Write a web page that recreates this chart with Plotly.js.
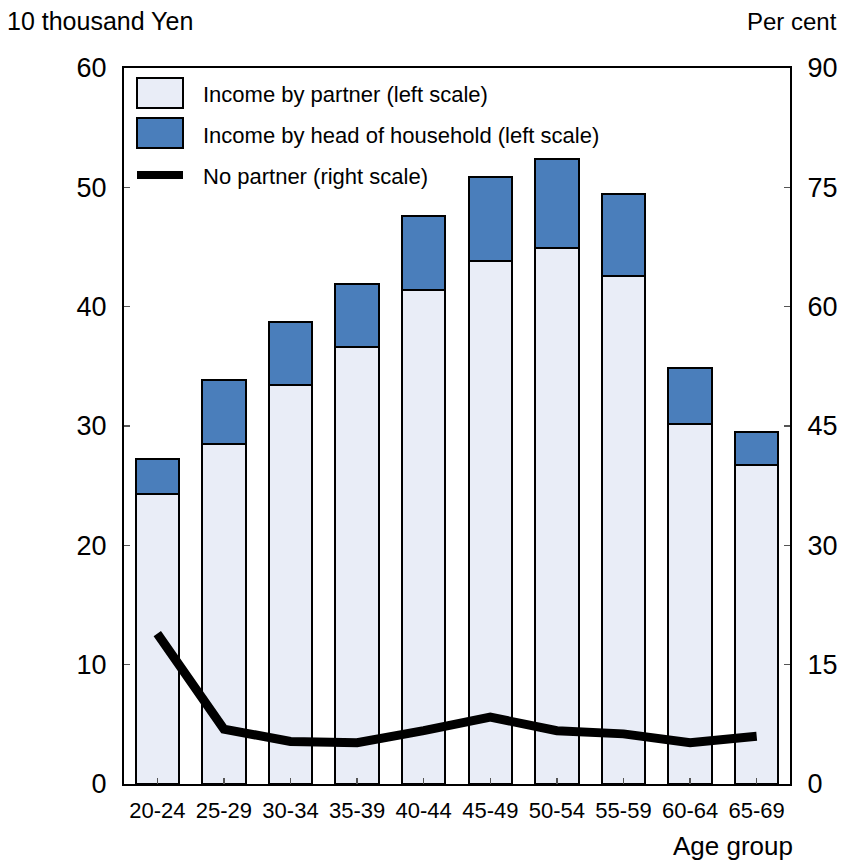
<!DOCTYPE html>
<html>
<head>
<meta charset="utf-8">
<script src="https://cdn.plot.ly/plotly-3.0.1.min.js"></script>
<style>html,body{margin:0;padding:0;background:#fff;}#chart{width:842px;height:865px;}</style>
</head>
<body>
<div id="chart"></div>
<script>
var ageGroups = ["20-24","25-29","30-34","35-39","40-44","45-49","50-54","55-59","60-64","65-69"];
var incomePartner = [24.3, 28.5, 33.4, 36.6, 41.4, 43.8, 44.9, 42.6, 30.2, 26.7];
var incomeHead = [2.9, 5.35, 5.3, 5.3, 6.2, 7.1, 7.45, 6.8, 4.65, 2.8];
var noPartner = [18.9, 6.9, 5.35, 5.2, 6.7, 8.4, 6.7, 6.3, 5.2, 6.0];
var leftTicks = [0,10,20,30,40,50,60];
var rightTicks = [0,15,30,45,60,75,90];
var legendLabels = ["Income by partner (left scale)","Income by head of household (left scale)","No partner (right scale)"];

var FONT = "'Liberation Sans',Arial,sans-serif";
var W = 842, H = 865, L = 124, R = 52, T = 68, B = 81;
var pw = W - L - R, ph = H - T - B;
function px(x){ return (x - L) / pw; }
function py(y){ return (H - B - y) / ph; }

var colPartner = '#e9edf7', colHead = '#4a7ebb';

var traces = [
  {type:'bar', x:ageGroups, y:incomePartner, name:legendLabels[0], yaxis:'y',
   marker:{color:colPartner, line:{color:'#000', width:2}}, width:0.65},
  {type:'bar', x:ageGroups, y:incomeHead, name:legendLabels[1], yaxis:'y',
   marker:{color:colHead, line:{color:'#000', width:2}}, width:0.65},
  {type:'scatter', mode:'lines', x:ageGroups, y:noPartner, name:legendLabels[2], yaxis:'y2',
   line:{color:'#000', width:9}}
];

var shapes = [
  {type:'rect', xref:'paper', yref:'paper', x0:px(137), x1:px(183), y0:py(108), y1:py(78),
   fillcolor:colPartner, line:{color:'#000', width:2}},
  {type:'rect', xref:'paper', yref:'paper', x0:px(137), x1:px(183), y0:py(148), y1:py(118),
   fillcolor:colHead, line:{color:'#000', width:2}},
  {type:'line', xref:'paper', yref:'paper', x0:px(137), x1:px(183), y0:py(175), y1:py(175),
   line:{color:'#000', width:8}}
];

var annotations = [
  {xref:'paper', yref:'paper', x:px(201), y:py(94), xanchor:'left', yanchor:'middle', showarrow:false,
   text:legendLabels[0], font:{family:FONT, size:22, color:'#000'}},
  {xref:'paper', yref:'paper', x:px(201), y:py(135), xanchor:'left', yanchor:'middle', showarrow:false,
   text:legendLabels[1], font:{family:FONT, size:22, color:'#000'}},
  {xref:'paper', yref:'paper', x:px(201), y:py(176), xanchor:'left', yanchor:'middle', showarrow:false,
   text:legendLabels[2], font:{family:FONT, size:22, color:'#000'}},
  {xref:'paper', yref:'paper', x:px(5), y:py(21), xanchor:'left', yanchor:'middle', showarrow:false,
   text:'10 thousand Yen', font:{family:FONT, size:25, color:'#000'}},
  {xref:'paper', yref:'paper', x:px(839), y:py(21), xanchor:'right', yanchor:'middle', showarrow:false,
   text:'Per cent', font:{family:FONT, size:24, color:'#000'}},
  {xref:'paper', yref:'paper', x:px(795), y:py(846), xanchor:'right', yanchor:'middle', showarrow:false,
   text:'Age group', font:{family:FONT, size:26, color:'#000'}}
];

var layout = {
  width:W, height:H,
  margin:{l:L, r:R, t:T, b:B, pad:0},
  paper_bgcolor:'#fff', plot_bgcolor:'#fff',
  barmode:'stack', bargap:0.35,
  showlegend:false,
  font:{family:FONT, color:'#000'},
  xaxis:{type:'category', categoryorder:'array', categoryarray:ageGroups,
    showline:true, linecolor:'#000', linewidth:2, mirror:true,
    ticks:'inside', ticklen:6, tickcolor:'#555', tickwidth:1.5, tickangle:0,
    tickfont:{family:FONT, size:22, color:'#000'}, ticklabelstandoff:6,
    showgrid:false, zeroline:false, fixedrange:true},
  yaxis:{range:[0,60], tickvals:leftTicks, ticktext:leftTicks.map(String),
    showline:true, linecolor:'#000', linewidth:2,
    ticks:'inside', ticklen:6, tickcolor:'#555', tickwidth:1.5,
    tickfont:{family:FONT, size:27, color:'#000'}, ticklabelstandoff:10,
    showgrid:false, zeroline:false, fixedrange:true},
  yaxis2:{range:[0,90], tickvals:rightTicks, ticktext:rightTicks.map(String),
    overlaying:'y', side:'right', anchor:'x',
    showline:true, linecolor:'#000', linewidth:2,
    ticks:'inside', ticklen:6, tickcolor:'#555', tickwidth:1.5,
    tickfont:{family:FONT, size:27, color:'#000'}, ticklabelstandoff:10,
    showgrid:false, zeroline:false, fixedrange:true},
  shapes:shapes,
  annotations:annotations
};

Plotly.newPlot('chart', traces, layout, {displayModeBar:false, staticPlot:true});
</script>
</body>
</html>
